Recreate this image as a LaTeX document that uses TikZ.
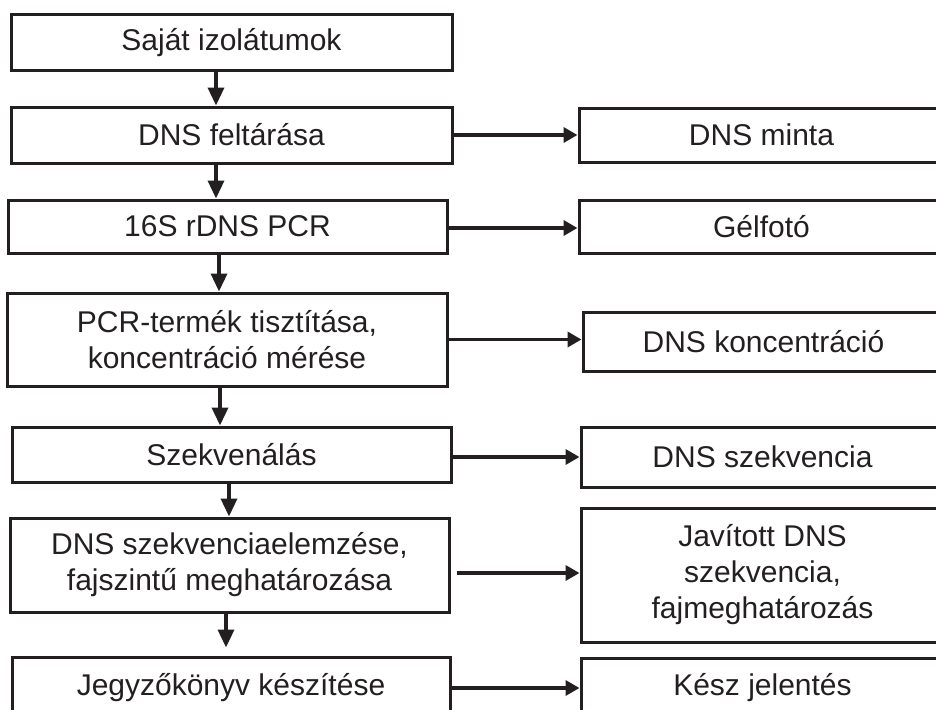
\documentclass[tikz,border=0pt]{standalone}
\usepackage{fontspec}
\setmainfont{Liberation Sans}
\usetikzlibrary{arrows.meta}
\definecolor{ink}{HTML}{231F20}

\begin{document}
\begin{tikzpicture}[x=1pt,y=-1pt,
    box/.style={draw=ink,line width=3pt,align=center,inner sep=0pt,
      text=ink,font=\fontsize{30}{36}\selectfont},
    arr/.style={draw=ink,line width=3.5pt,-{Triangle[length=18pt,width=16pt]}},
    harr/.style={draw=ink,line width=3.5pt,-{Triangle[length=14pt,width=15pt]}}]

        \useasboundingbox (0,0) rectangle (936,709);
        \clip (0,0) rectangle (936,709);

        % left column
        \begin{scope}[every node/.style={box}]
          \node[minimum width=441pt,minimum height=55pt] (izolat)  at (231.5,42.5) {Saját izolátumok};
          \node[minimum width=441pt,minimum height=56pt] (feltar)  at (231.5,135)  {DNS feltárása};
          \node[minimum width=439pt,minimum height=53pt] (pcr)     at (227.5,226.5) {16S rDNS PCR};
          \node[minimum width=440pt,minimum height=93pt] (tisztit) at (227,339.5)  {PCR-termék tisztítása,\\koncentráció mérése};
          \node[minimum width=439pt,minimum height=55pt] (szekv)   at (231.5,454.5) {Szekvenálás};
          \node[minimum width=439pt,minimum height=94pt] (elemz)   at (229.5,565)  {DNS szekvenciaelemzése,\\fajszintű meghatározása};
          \node[minimum width=438pt,minimum height=62pt] (jegyz)   at (231,688)    {Jegyzőkönyv készítése};
        \end{scope}

        % right column
        \begin{scope}[every node/.style={box}]
          \node[minimum width=365pt,minimum height=54pt]  (minta)  at (761.5,135)  {DNS minta};
          \node[minimum width=365pt,minimum height=53pt]  (gel)    at (761.5,226.5) {Gélfotó};
          \node[minimum width=361pt,minimum height=59pt]  (konc)   at (763.5,341.5) {DNS koncentráció};
          \node[minimum width=363pt,minimum height=60pt]  (szekvr) at (762.5,457)  {DNS szekvencia};
          \node[minimum width=363pt,minimum height=134pt] (javit)  at (762.5,575)  {Javított DNS\\szekvencia,\\fajmeghatározás};
          \node[minimum width=363pt,minimum height=60pt]  (kesz)   at (762.5,688)  {Kész jelentés};
        \end{scope}

        % down arrows
        \draw[arr] ([xshift=-15.5pt]izolat.south) -- ([xshift=-15.5pt]izolat.south |- feltar.north);
        \draw[arr] ([xshift=-15.5pt]feltar.south) -- ([xshift=-15.5pt]feltar.south |- pcr.north);
        \draw[arr] ([xshift=-8.5pt]pcr.south) -- ([xshift=-8.5pt]pcr.south |- tisztit.north);
        \draw[arr] ([xshift=-7pt]tisztit.south) -- ([xshift=-7pt]tisztit.south |- szekv.north);
        \draw[arr] ([xshift=-2.5pt]szekv.south) -- ([xshift=-2.5pt]szekv.south |- elemz.north);
        \draw[arr,shorten >=8pt] ([xshift=-3.5pt]elemz.south) -- ([xshift=-3.5pt]elemz.south |- jegyz.north);

        % side arrows
        \draw[harr] (feltar.east) -- (feltar.east -| minta.west);
        \draw[harr] ([yshift=-1.5pt]pcr.east) -- ([yshift=-1.5pt]pcr.east -| gel.west);
        \draw[harr] (tisztit.east) -- (tisztit.east -| konc.west);
        \draw[harr] ([yshift=-2.5pt]szekv.east) -- ([yshift=-2.5pt]szekv.east -| szekvr.west);
        \draw[harr,shorten <=6pt] ([yshift=-8pt]elemz.east) -- ([yshift=-8pt]elemz.east -| javit.west);
        \draw[harr] (jegyz.east) -- (jegyz.east -| kesz.west);

\end{tikzpicture}
\end{document}
